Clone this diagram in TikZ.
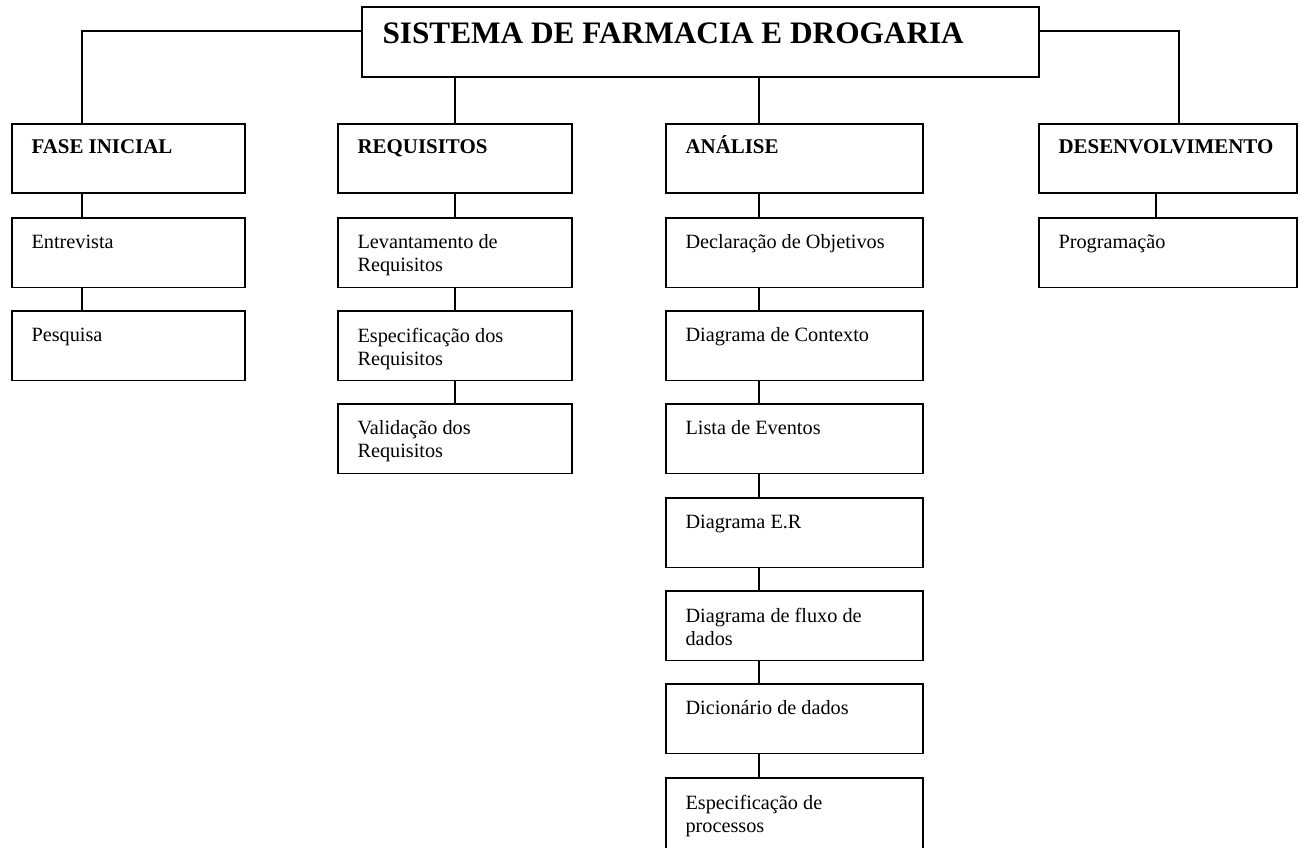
\documentclass[tikz,border=0pt]{standalone}
\usepackage{fontspec}
\setmainfont{Liberation Serif}
\begin{document}
\begin{tikzpicture}[x=0.75pt,y=-0.75pt,
  boxst/.style={draw=black, line width=1.1pt, rectangle, inner sep=0pt, fill=white},
  hdr/.style={font=\bfseries\fontsize{15.7}{17.3}\selectfont, align=left, inner sep=0pt},
  reg/.style={font=\fontsize{15.2}{17.3}\selectfont, align=left, inner sep=0pt},
  ttl/.style={font=\bfseries\fontsize{23.45}{26}\selectfont, inner sep=0pt},
  conn/.style={draw=black, line width=1.1pt}]
\useasboundingbox (0,0) rectangle (1304,847);
\fill[white] (0,0) rectangle (1304,847);
% title
\node[boxst, minimum width=507.75pt, minimum height=52.5pt] (title) at (700.5,42) {};
\node[ttl, anchor=base west] (ttltxt) at ([xshift=15.75pt,yshift=-27.75pt]title.north west) {SISTEMA DE FARMACIA E DROGARIA};
% level 1
\node[boxst, minimum width=174.75pt, minimum height=51.75pt] (fi) at (128.5,158.5) {};
\node[boxst, minimum width=175.5pt, minimum height=51.75pt] (req) at (455,158.5) {};
\node[boxst, minimum width=192.75pt, minimum height=51.75pt] (ana) at (794.5,158.5) {};
\node[boxst, minimum width=193.5pt, minimum height=51.75pt] (des) at (1168,158.5) {};
\foreach \n/\t in {fi/FASE INICIAL, req/REQUISITOS, ana/ANÁLISE, des/DESENVOLVIMENTO}
  \node[hdr, anchor=base west] (\n t) at ([xshift=15pt,yshift=-22.6pt]\n.north west) {\t};
% FASE INICIAL column
\node[boxst, minimum width=174.75pt, minimum height=52.1pt] (f1) at (128.5,252.75) {};
\node[boxst, minimum width=174.75pt, minimum height=52.1pt] (f2) at (128.5,345.75) {};
% REQUISITOS column
\node[boxst, minimum width=175.5pt, minimum height=52.1pt] (r1) at (455,252.75) {};
\node[boxst, minimum width=175.5pt, minimum height=52.1pt] (r2) at (455,345.75) {};
\node[boxst, minimum width=175.5pt, minimum height=52.1pt] (r3) at (455,438.75) {};
% ANALISE column
\node[boxst, minimum width=192.75pt, minimum height=52.1pt] (a1) at (794.5,252.75) {};
\node[boxst, minimum width=192.75pt, minimum height=52.1pt] (a2) at (794.5,345.75) {};
\node[boxst, minimum width=192.75pt, minimum height=52.1pt] (a3) at (794.5,438.75) {};
\node[boxst, minimum width=192.75pt, minimum height=52.1pt] (a4) at (794.5,532.75) {};
\node[boxst, minimum width=192.75pt, minimum height=52.1pt] (a5) at (794.5,625.75) {};
\node[boxst, minimum width=192.75pt, minimum height=52.1pt] (a6) at (794.5,718.75) {};
\node[boxst, minimum width=192.75pt, minimum height=60pt] (a7) at (794.5,818) {};
% DESENVOLVIMENTO column
\node[boxst, minimum width=193.5pt, minimum height=52.1pt] (d1) at (1168,252.75) {};
% texts
\foreach \n/\t in {f1/Entrevista, f2/Pesquisa,
  r1/{Levantamento de\\Requisitos}, r2/{Especificação dos\\Requisitos}, r3/{Validação dos\\Requisitos},
  a1/Declaração de Objetivos, a2/Diagrama de Contexto, a3/Lista de Eventos, a4/Diagrama E.R,
  a5/{Diagrama de fluxo de\\dados}, a6/Dicionário de dados, a7/{Especificação de\\processos},
  d1/Programação}
  \node[reg, anchor=north west] (\n t) at ([xshift=15pt,yshift=-12.9pt]\n.north west) {\t};
% connectors from title
\draw[conn] ([yshift=8.25pt]title.west) -| ([xshift=-34.875pt]fi.north);
\draw[conn] ([yshift=8.25pt]title.east) -| ([xshift=8.25pt]des.north);
\draw[conn] (title.south -| req.north) -- (req.north);
\draw[conn] ([xshift=-26.625pt]ana.north |- title.south) -- ([xshift=-26.625pt]ana.north);
% chains
\draw[conn] ([xshift=-34.875pt]fi.south) -- ([xshift=-34.875pt]f1.north);
\draw[conn] ([xshift=-34.875pt]f1.south) -- ([xshift=-34.875pt]f2.north);
\draw[conn] (req.south) -- (r1.north);
\draw[conn] (r1.south) -- (r2.north);
\draw[conn] (r2.south) -- (r3.north);
\foreach \u/\v in {ana/a1, a1/a2, a2/a3, a3/a4, a4/a5, a5/a6, a6/a7}
  \draw[conn] ([xshift=-26.625pt]\u.south) -- ([xshift=-26.625pt]\v.north);
\draw[conn] ([xshift=-9pt]des.south) -- ([xshift=-9pt]d1.north);
\end{tikzpicture}
\end{document}
